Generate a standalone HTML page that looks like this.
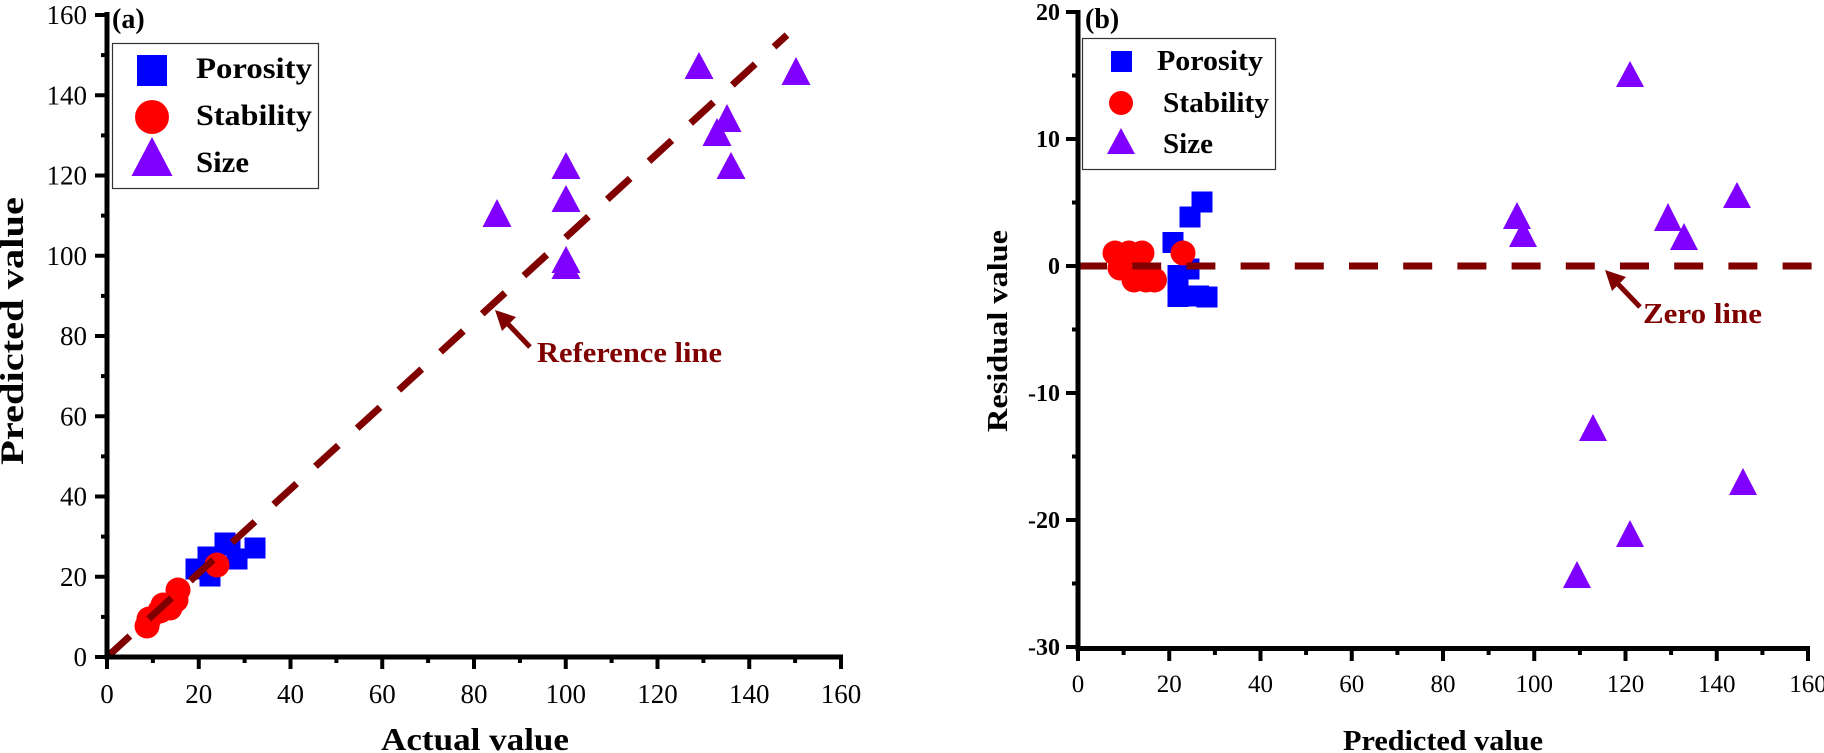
<!DOCTYPE html>
<html><head><meta charset="utf-8"><style>
html,body{margin:0;padding:0;background:#fff;}
svg{display:block;}
text{font-family:"Liberation Serif",serif;}
</style></head><body>
<svg width="1824" height="753" viewBox="0 0 1824 753" xmlns="http://www.w3.org/2000/svg">
<rect width="1824" height="753" fill="#fff"/>

<!-- ================= LEFT PLOT (a) ================= -->
<rect x="112.5" y="43.5" width="206" height="145" fill="#fff" stroke="#333" stroke-width="1.2"/>
<rect x="137" y="55" width="30" height="31" fill="#0000FF"/>
<circle cx="152" cy="117" r="17" fill="#FF0000"/>
<polygon points="152,137 131.5,176 172.5,176" fill="#7F00FF"/>
<text x="196" y="78" font-size="30" font-weight="bold" textLength="116" lengthAdjust="spacingAndGlyphs">Porosity</text>
<text x="196" y="125" font-size="30" font-weight="bold" textLength="116" lengthAdjust="spacingAndGlyphs">Stability</text>
<text x="196" y="172" font-size="30" font-weight="bold" textLength="53" lengthAdjust="spacingAndGlyphs">Size</text>
<text x="112" y="28" font-size="28" font-weight="bold">(a)</text>

<g fill="#0000FF">
<rect x="185.5" y="558.5" width="21" height="21"/>
<rect x="199.5" y="565.5" width="21" height="21"/>
<rect x="197.5" y="546.5" width="21" height="21"/>
<rect x="214.5" y="532.5" width="21" height="21"/>
<rect x="219.5" y="534.5" width="21" height="21"/>
<rect x="226.5" y="548.5" width="21" height="21"/>
<rect x="244.5" y="537.5" width="21" height="21"/>
</g>
<g fill="#FF0000">
<circle cx="147" cy="626" r="12.5"/>
<circle cx="149" cy="619" r="12.5"/>
<circle cx="160" cy="611" r="12.5"/>
<circle cx="163" cy="605" r="12.5"/>
<circle cx="170" cy="608" r="12.5"/>
<circle cx="176" cy="600" r="12.5"/>
<circle cx="178" cy="590" r="12.5"/>
<circle cx="217" cy="565" r="12.5"/>
</g>
<g fill="#7F00FF">
<polygon points="699,52 684.5,79 713.5,79"/>
<polygon points="796,57 781.5,85 810.5,85"/>
<polygon points="727,104 712.5,132 741.5,132"/>
<polygon points="717,118 702.5,146 731.5,146"/>
<polygon points="731,152 716.5,179 745.5,179"/>
<polygon points="566,152 551.5,179 580.5,179"/>
<polygon points="566,185 551.5,212 580.5,212"/>
<polygon points="497,199 482.5,227 511.5,227"/>
<polygon points="566,246 551.5,273 580.5,273"/>
<polygon points="566,252 551.5,279 580.5,279"/>
</g>
<line x1="107" y1="657" x2="787" y2="35" stroke="#800000" stroke-width="7" stroke-dasharray="31 25.5"/>
<line x1="530" y1="347" x2="508" y2="324" stroke="#800000" stroke-width="5"/>
<polygon points="495,310 516,317 502,331" fill="#800000"/>
<text x="537" y="362" font-size="28" font-weight="bold" fill="#800000" textLength="185" lengthAdjust="spacingAndGlyphs">Reference line</text>

<g stroke="#000">
<line x1="107" y1="12" x2="107" y2="659.5" stroke-width="5"/>
<line x1="104.5" y1="657" x2="843" y2="657" stroke-width="5"/>
<g stroke-width="4">
<line x1="95" y1="657" x2="107" y2="657"/>
<line x1="95" y1="576.75" x2="107" y2="576.75"/>
<line x1="95" y1="496.5" x2="107" y2="496.5"/>
<line x1="95" y1="416.25" x2="107" y2="416.25"/>
<line x1="95" y1="336" x2="107" y2="336"/>
<line x1="95" y1="255.75" x2="107" y2="255.75"/>
<line x1="95" y1="175.5" x2="107" y2="175.5"/>
<line x1="95" y1="95.25" x2="107" y2="95.25"/>
<line x1="95" y1="15" x2="107" y2="15"/>
<line x1="101" y1="616.9" x2="107" y2="616.9"/>
<line x1="101" y1="536.6" x2="107" y2="536.6"/>
<line x1="101" y1="456.4" x2="107" y2="456.4"/>
<line x1="101" y1="376.1" x2="107" y2="376.1"/>
<line x1="101" y1="295.9" x2="107" y2="295.9"/>
<line x1="101" y1="215.6" x2="107" y2="215.6"/>
<line x1="101" y1="135.4" x2="107" y2="135.4"/>
<line x1="101" y1="55.1" x2="107" y2="55.1"/>
<line x1="107" y1="657" x2="107" y2="669"/>
<line x1="198.75" y1="657" x2="198.75" y2="669"/>
<line x1="290.5" y1="657" x2="290.5" y2="669"/>
<line x1="382.25" y1="657" x2="382.25" y2="669"/>
<line x1="474" y1="657" x2="474" y2="669"/>
<line x1="565.75" y1="657" x2="565.75" y2="669"/>
<line x1="657.5" y1="657" x2="657.5" y2="669"/>
<line x1="749.25" y1="657" x2="749.25" y2="669"/>
<line x1="841" y1="657" x2="841" y2="669"/>
<line x1="152.9" y1="657" x2="152.9" y2="663"/>
<line x1="244.6" y1="657" x2="244.6" y2="663"/>
<line x1="336.4" y1="657" x2="336.4" y2="663"/>
<line x1="428.1" y1="657" x2="428.1" y2="663"/>
<line x1="519.9" y1="657" x2="519.9" y2="663"/>
<line x1="611.6" y1="657" x2="611.6" y2="663"/>
<line x1="703.4" y1="657" x2="703.4" y2="663"/>
<line x1="795.1" y1="657" x2="795.1" y2="663"/>
</g>
</g>
<g font-size="27" text-anchor="end">
<text x="87" y="666">0</text>
<text x="87" y="585.75">20</text>
<text x="87" y="505.5">40</text>
<text x="87" y="425.25">60</text>
<text x="87" y="345">80</text>
<text x="87" y="264.75">100</text>
<text x="87" y="184.5">120</text>
<text x="87" y="104.25">140</text>
<text x="87" y="24">160</text>
</g>
<g font-size="27" text-anchor="middle">
<text x="107" y="703">0</text>
<text x="198.75" y="703">20</text>
<text x="290.5" y="703">40</text>
<text x="382.25" y="703">60</text>
<text x="474" y="703">80</text>
<text x="565.75" y="703">100</text>
<text x="657.5" y="703">120</text>
<text x="749.25" y="703">140</text>
<text x="841" y="703">160</text>
</g>
<text x="475" y="750" font-size="32" font-weight="bold" text-anchor="middle" textLength="188" lengthAdjust="spacingAndGlyphs">Actual value</text>
<text transform="translate(23,331) rotate(-90)" font-size="33" font-weight="bold" text-anchor="middle" textLength="268" lengthAdjust="spacingAndGlyphs">Predicted value</text>

<!-- ================= RIGHT PLOT (b) ================= -->
<rect x="1082.5" y="38.5" width="193" height="131" fill="#fff" stroke="#333" stroke-width="1.2"/>
<rect x="1111" y="51" width="21" height="21" fill="#0000FF"/>
<circle cx="1121" cy="103" r="12" fill="#FF0000"/>
<polygon points="1121,128 1107,154 1135,154" fill="#7F00FF"/>
<text x="1157" y="70" font-size="28" font-weight="bold" textLength="106" lengthAdjust="spacingAndGlyphs">Porosity</text>
<text x="1163" y="112" font-size="28" font-weight="bold" textLength="106" lengthAdjust="spacingAndGlyphs">Stability</text>
<text x="1163" y="153" font-size="28" font-weight="bold" textLength="50" lengthAdjust="spacingAndGlyphs">Size</text>
<text x="1085" y="28" font-size="28" font-weight="bold">(b)</text>

<g fill="#0000FF">
<rect x="1191.5" y="191.5" width="21" height="21"/>
<rect x="1179.5" y="206.5" width="21" height="21"/>
<rect x="1162.5" y="232" width="21" height="21"/>
<rect x="1178.5" y="258.5" width="21" height="21"/>
<rect x="1167.5" y="265" width="21" height="21"/>
<rect x="1167.5" y="286" width="21" height="21"/>
<rect x="1188" y="285.5" width="21" height="21"/>
<rect x="1196.5" y="286.5" width="21" height="21"/>
</g>
<g fill="#FF0000">
<circle cx="1115" cy="253" r="12.5"/>
<circle cx="1129" cy="253" r="12.5"/>
<circle cx="1142" cy="253" r="12.5"/>
<circle cx="1120" cy="268" r="12.5"/>
<circle cx="1134" cy="280" r="12.5"/>
<circle cx="1146" cy="280" r="12.5"/>
<circle cx="1154.5" cy="280" r="12.5"/>
<circle cx="1183" cy="253" r="12.5"/>
</g>
<g fill="#7F00FF">
<polygon points="1630,61 1616,87 1644,87"/>
<polygon points="1737,182 1723,208 1751,208"/>
<polygon points="1517,202 1503,229 1531,229"/>
<polygon points="1523,220 1509,247 1537,247"/>
<polygon points="1668,203 1654,231 1682,231"/>
<polygon points="1684,223 1670,250 1698,250"/>
<polygon points="1593,414 1579,441 1607,441"/>
<polygon points="1743,468 1729,495 1757,495"/>
<polygon points="1630,520 1616,547 1644,547"/>
<polygon points="1577,561 1563,588 1591,588"/>
</g>
<line x1="1078" y1="266" x2="1813" y2="266" stroke="#800000" stroke-width="7" stroke-dasharray="29 25.2"/>
<line x1="1640" y1="307" x2="1618" y2="284" stroke="#800000" stroke-width="5"/>
<polygon points="1605,270 1626,277 1612,291" fill="#800000"/>
<text x="1643" y="323" font-size="28" font-weight="bold" fill="#800000" textLength="119" lengthAdjust="spacingAndGlyphs">Zero line</text>

<g stroke="#000">
<line x1="1078" y1="10" x2="1078" y2="651" stroke-width="5"/>
<line x1="1075.5" y1="648.5" x2="1810" y2="648.5" stroke-width="5"/>
<g stroke-width="4">
<line x1="1066" y1="12" x2="1078" y2="12"/>
<line x1="1066" y1="139" x2="1078" y2="139"/>
<line x1="1066" y1="266" x2="1078" y2="266"/>
<line x1="1066" y1="393" x2="1078" y2="393"/>
<line x1="1066" y1="520" x2="1078" y2="520"/>
<line x1="1066" y1="647" x2="1078" y2="647"/>
<line x1="1072" y1="75.5" x2="1078" y2="75.5"/>
<line x1="1072" y1="202.5" x2="1078" y2="202.5"/>
<line x1="1072" y1="329.5" x2="1078" y2="329.5"/>
<line x1="1072" y1="456.5" x2="1078" y2="456.5"/>
<line x1="1072" y1="583.5" x2="1078" y2="583.5"/>
<line x1="1078" y1="648" x2="1078" y2="661"/>
<line x1="1169.25" y1="648" x2="1169.25" y2="661"/>
<line x1="1260.5" y1="648" x2="1260.5" y2="661"/>
<line x1="1351.75" y1="648" x2="1351.75" y2="661"/>
<line x1="1443" y1="648" x2="1443" y2="661"/>
<line x1="1534.25" y1="648" x2="1534.25" y2="661"/>
<line x1="1625.5" y1="648" x2="1625.5" y2="661"/>
<line x1="1716.75" y1="648" x2="1716.75" y2="661"/>
<line x1="1808" y1="648" x2="1808" y2="661"/>
<line x1="1123.6" y1="648" x2="1123.6" y2="655"/>
<line x1="1214.9" y1="648" x2="1214.9" y2="655"/>
<line x1="1306.1" y1="648" x2="1306.1" y2="655"/>
<line x1="1397.4" y1="648" x2="1397.4" y2="655"/>
<line x1="1488.6" y1="648" x2="1488.6" y2="655"/>
<line x1="1579.9" y1="648" x2="1579.9" y2="655"/>
<line x1="1671.1" y1="648" x2="1671.1" y2="655"/>
<line x1="1762.4" y1="648" x2="1762.4" y2="655"/>
</g>
</g>
<g font-size="24" font-weight="bold" text-anchor="end">
<text x="1060" y="20">20</text>
<text x="1060" y="147">10</text>
<text x="1060" y="274">0</text>
<text x="1060" y="401">-10</text>
<text x="1060" y="528">-20</text>
<text x="1060" y="655">-30</text>
</g>
<g font-size="25" text-anchor="middle">
<text x="1078" y="692">0</text>
<text x="1169.25" y="692">20</text>
<text x="1260.5" y="692">40</text>
<text x="1351.75" y="692">60</text>
<text x="1443" y="692">80</text>
<text x="1534.25" y="692">100</text>
<text x="1625.5" y="692">120</text>
<text x="1716.75" y="692">140</text>
<text x="1808" y="692">160</text>
</g>
<text x="1443" y="750" font-size="29" font-weight="bold" text-anchor="middle" textLength="200" lengthAdjust="spacingAndGlyphs">Predicted value</text>
<text transform="translate(1007,331) rotate(-90)" font-size="29" font-weight="bold" text-anchor="middle" textLength="202" lengthAdjust="spacingAndGlyphs">Residual value</text>
</svg>
</body></html>
